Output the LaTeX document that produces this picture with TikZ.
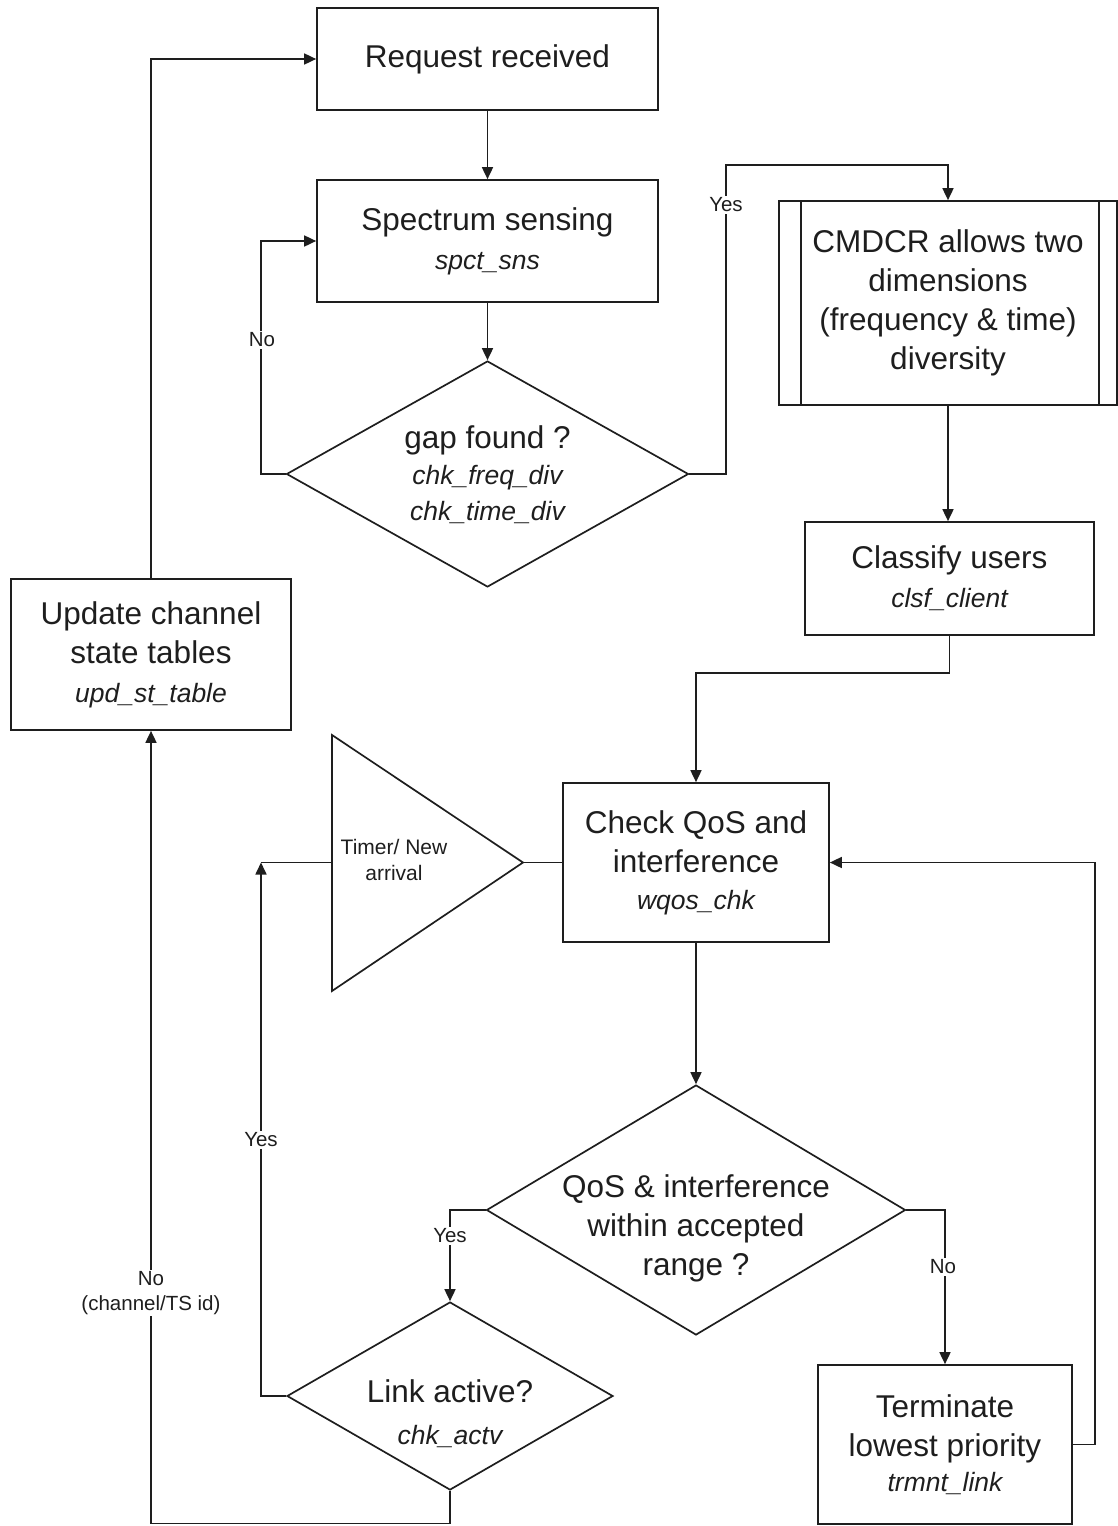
\documentclass[tikz,border=0pt]{standalone}
\usepackage{fontspec}
\setmainfont{Liberation Sans}
\usetikzlibrary{shapes.geometric,arrows.meta}
\definecolor{ink}{HTML}{1E1E1E}
\newcommand\mainsz{\fontsize{31.5}{39}\selectfont}
\newcommand\fnname[1]{{\fontsize{26.5}{39}\selectfont\itshape #1}}
\newcommand\lblsz{\fontsize{20.5}{25}\selectfont}
\tikzset{
  ln/.style={draw=ink, line width=1.7pt},
  arr/.style={ln, -{Triangle[length=12pt,width=11pt]}},
  box/.style={ln, rectangle, inner sep=0pt, align=center, text=ink, font=\mainsz},
  decision/.style={ln, diamond, inner sep=0pt},
  txt/.style={inner sep=0pt, align=center, text=ink, font=\mainsz},
  lbl/.style={fill=white, inner sep=1.5pt, align=center, text=ink, font=\lblsz},
}
\begin{document}
\begin{tikzpicture}[x=1pt,y=-1pt]
\useasboundingbox (0,0) rectangle (1117,1526);

% process boxes and decisions
\node[box, minimum width=341, minimum height=102] (req) at (487.5,59) {Request received};
\node[box, minimum width=341, minimum height=122] (sens) at (487.5,241) {Spectrum sensing\\\fnname{spct\_sns}};
\node[decision, minimum width=402, minimum height=226] (gap) at (487.5,474) {};
\node[txt] (gaptxt) at (487.5,475) {gap found ?\\[-3pt]\fnname{chk\_freq\_div}\\[-3pt]\fnname{chk\_time\_div}};
\node[box, minimum width=338, minimum height=204] (cmd) at (948,303) {CMDCR allows two\\dimensions\\(frequency \& time)\\diversity};
\draw[ln] ([xshift=23pt]cmd.north west) -- ([xshift=23pt]cmd.south west);
\draw[ln] ([xshift=-19pt]cmd.north east) -- ([xshift=-19pt]cmd.south east);
\node[box, minimum width=289, minimum height=113] (cls) at (949.5,578.5) {Classify users\\\fnname{clsf\_client}};
\node[box, minimum width=280, minimum height=151] (upd) at (151,654.5) {Update channel\\state tables\\\fnname{upd\_st\_table}};
\node[box, minimum width=266, minimum height=159] (chk) at (696,862.5) {Check QoS and\\interference\\[-2pt]\fnname{wqos\_chk}};
\node[decision, minimum width=419, minimum height=250] (qos) at (696,1210) {};
\node[txt] (qostxt) at (696,1228) {QoS \& interference\\within accepted\\range ?};
\node[decision, minimum width=326, minimum height=188] (lnk) at (450,1396) {};
\node[txt] (lnktxt) at (450,1414) {Link active?\\[3pt]\fnname{chk\_actv}};
\node[box, minimum width=254, minimum height=159] (trm) at (945,1444.5) {Terminate\\lowest priority\\[-4pt]\fnname{trmnt\_link}};

% timer / new arrival triangle
\coordinate (triw) at (332,862.5);
\coordinate (trie) at (523,862.5);
\draw[ln, line join=miter] (332,735) -- (trie) -- (332,991) -- cycle;
\node[inner sep=0pt, align=center, text=ink, font=\fontsize{21}{26}\selectfont] (tri) at (394,860) {Timer/ New\\arrival};

% routing points
\coordinate (yb) at (726,165);
\coordinate (cnr) at (261,862.5);
\coordinate (bot) at (151,1523.5);

% connectors
\draw[arr] (req) -- (sens);
\draw[arr] (sens.south) -- (gap.north);
\draw[arr] (gap.west) -- ++(-25,0) |- (sens.west);
\draw[arr] (gap.east) -| (yb) -| (cmd.north);
\draw[arr] (cmd.south) -- (cmd.south |- cls.north);
\draw[arr] (cls.south) -- ++(0,37) -| (chk.north);
\draw[arr] (chk.south) -- (qos.north);
\draw[arr] (qos.west) -| (lnk.north);
\draw[arr] (qos.east) -| (trm.north);
\draw[arr] (trm.east) -- ++(22,0) |- (chk.east);
\draw[arr] (lnk.west) -| (cnr);
\draw[ln] (cnr) -- (triw);
\draw[ln] (trie) -- (chk.west);
\draw[arr] (lnk.south) |- (bot) -- (upd.south);
\draw[arr] (upd.north) |- (req.west);

% branch labels
\node[lbl] (l1) at (262,340) {No};
\node[lbl] (l2) at (726,205) {Yes};
\node[lbl] (l3) at (450,1236) {Yes};
\node[lbl] (l4) at (943,1267) {No};
\node[lbl] (l5) at (261,1140) {Yes};
\node[lbl] (l6) at (151,1293) {No\\(channel/TS id)};
\end{tikzpicture}
\end{document}
